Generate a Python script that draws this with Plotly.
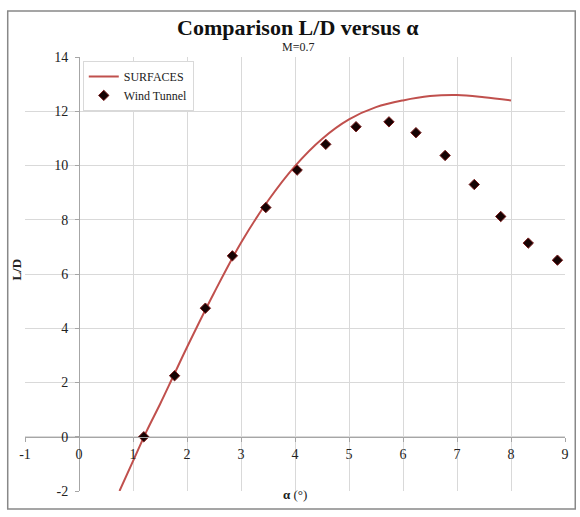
import plotly.graph_objects as go

# SURFACES (computed) curve
surf_alpha = [0.75, 1.0, 1.25, 1.5, 1.75, 2.0, 2.5, 3.0, 3.5, 4.0, 4.5, 5.0, 5.5, 6.0, 6.5, 7.0, 7.5, 8.0]
surf_ld = [-2.0, -0.9, 0.2, 1.2, 2.25, 3.3, 5.3, 7.15, 8.7, 9.98, 10.98, 11.7, 12.15, 12.4, 12.56, 12.6, 12.52, 12.4]

# Wind tunnel measurements
wt_alpha = [1.2, 1.77, 2.34, 2.84, 3.46, 4.04, 4.57, 5.13, 5.74, 6.24, 6.78, 7.32, 7.81, 8.32, 8.86]
wt_ld = [0.0, 2.25, 4.74, 6.67, 8.45, 9.83, 10.78, 11.43, 11.61, 11.21, 10.37, 9.30, 8.12, 7.14, 6.51]

x_ticks = list(range(-1, 10))
y_ticks = list(range(-2, 15, 2))

FONT = "Liberation Serif, Times New Roman, serif"

fig = go.Figure()
fig.add_trace(go.Scatter(
    x=surf_alpha, y=surf_ld, mode="lines", name="SURFACES",
    line=dict(color="#C0504D", width=2, shape="spline", smoothing=1.0),
))
fig.add_trace(go.Scatter(
    x=wt_alpha, y=wt_ld, mode="markers", name="Wind Tunnel",
    marker=dict(symbol="diamond", size=8, color="#160303",
                line=dict(color="#7a1a1a", width=1)),
))

fig.update_layout(
    width=580, height=517,
    margin=dict(l=25, r=15, t=57, b=26),
    paper_bgcolor="white", plot_bgcolor="white",
    font=dict(family=FONT, size=12, color="#222"),
    showlegend=True,
    legend=dict(x=0.107, y=0.991, xanchor="left", yanchor="top",
                bgcolor="white", bordercolor="#d9d9d9", borderwidth=1,
                font=dict(family=FONT, size=12, color="#222"),
                tracegroupgap=2, itemwidth=30),
    xaxis=dict(range=[-1, 9], tickvals=x_ticks, ticktext=[str(v) for v in x_ticks],
               showgrid=True, gridcolor="#d9d9d9", gridwidth=1, zeroline=False,
               showline=True, linecolor="#a6a6a6", linewidth=1,
               anchor="free", position=0.125,
               ticks="outside", ticklen=4, tickcolor="#a6a6a6",
               tickfont=dict(family=FONT, size=14, color="#222")),
    yaxis=dict(range=[-2, 14], tickvals=y_ticks, ticktext=[str(v) for v in y_ticks],
               showgrid=True, gridcolor="#d9d9d9", gridwidth=1, zeroline=False,
               showline=True, linecolor="#a6a6a6", linewidth=1,
               anchor="free", position=0.1, ticklabelstandoff=4,
               ticks="outside", ticklen=4, tickcolor="#a6a6a6",
               tickfont=dict(family=FONT, size=14, color="#222")),
    shapes=[dict(type="rect", xref="paper", yref="paper",
                 x0=-0.032, x1=1.019, y0=-0.0415, y1=1.106,
                 line=dict(color="#888888", width=1.5), layer="below")],
    annotations=[
        dict(text="<b>Comparison L/D versus α</b>", xref="paper", yref="paper",
             x=0.505, y=1.068, xanchor="center", yanchor="middle", showarrow=False,
             font=dict(family=FONT, size=22, color="#111")),
        dict(text="M=0.7", xref="paper", yref="paper",
             x=0.505, y=1.024, xanchor="center", yanchor="middle", showarrow=False,
             font=dict(family=FONT, size=12, color="#222")),
        dict(text="<b>L/D</b>", xref="paper", yref="paper",
             x=-0.015, y=0.51, xanchor="center", yanchor="middle", showarrow=False,
             textangle=-90, font=dict(family=FONT, size=13, color="#222")),
        dict(text="<b>α</b> (°)", xref="paper", yref="paper",
             x=0.5, y=-0.008, xanchor="center", yanchor="middle", showarrow=False,
             font=dict(family=FONT, size=13, color="#222")),
    ],
)

fig.write_html("out.html")
